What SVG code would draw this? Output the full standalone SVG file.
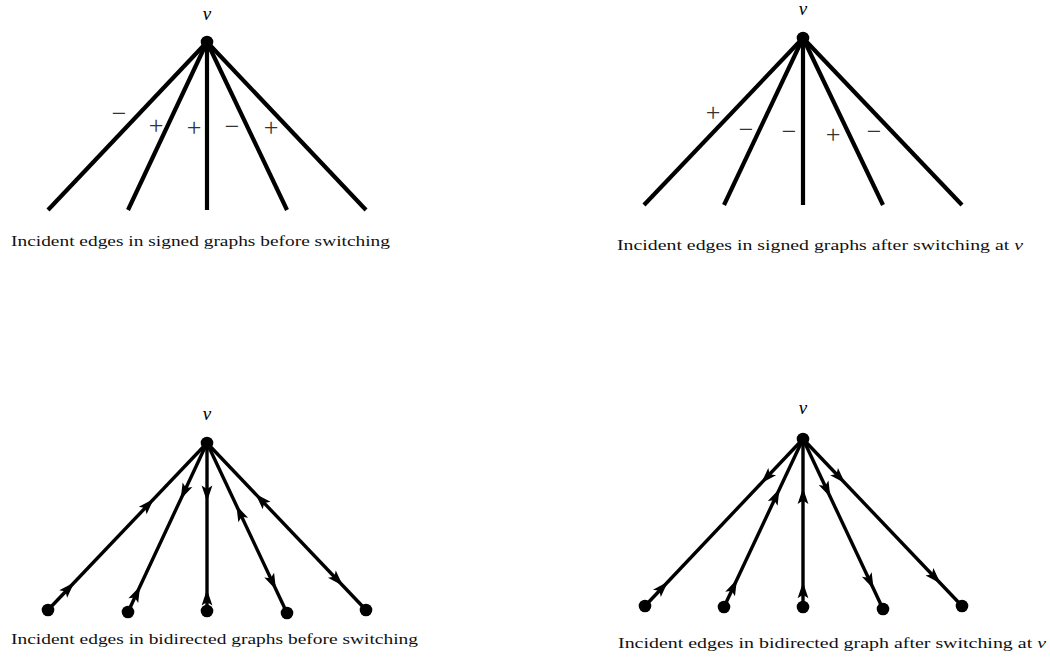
<svg xmlns="http://www.w3.org/2000/svg" xmlns:xlink="http://www.w3.org/1999/xlink" width="1050" height="658" viewBox="0 0 1050 658">
<style>
.bg{fill:#ffffff}
.e4{stroke:#000;stroke-width:4.2;fill:none}
.e3{stroke:#000;stroke-width:3.4;fill:none}
.dot{fill:#000}
.lbl{font-family:"Liberation Serif",serif;font-style:italic;font-size:19px;fill:#000;text-anchor:middle}
.sgn{font-family:"Liberation Serif",serif;font-size:26px;fill:#333;text-anchor:middle}
.cap{font-family:"Liberation Serif",serif;font-size:15px;fill:#111}
.it{font-style:italic}
</style>
<defs>
<path id="ah" d="M8,0 L-8,-5.4 L-4.5,0 L-8,5.4 Z" fill="#000"/>
</defs>
<rect class="bg" x="0" y="0" width="1050" height="658"/>

<g id="connectors">
  <g id="tl-edges">
    <line class="e4" x1="207" y1="42" x2="48" y2="210"/>
    <line class="e4" x1="207" y1="42" x2="128" y2="210"/>
    <line class="e4" x1="207" y1="42" x2="207" y2="210"/>
    <line class="e4" x1="207" y1="42" x2="287" y2="210"/>
    <line class="e4" x1="207" y1="42" x2="366" y2="210"/>
  </g>
  <g id="tr-edges">
    <line class="e4" x1="803" y1="38" x2="644" y2="205"/>
    <line class="e4" x1="803" y1="38" x2="724" y2="205"/>
    <line class="e4" x1="803" y1="38" x2="803" y2="205"/>
    <line class="e4" x1="803" y1="38" x2="883" y2="205"/>
    <line class="e4" x1="803" y1="38" x2="962" y2="205"/>
  </g>
  <g id="bl-edges">
    <line class="e3" x1="207" y1="443" x2="48" y2="610"/>
    <line class="e3" x1="207" y1="443" x2="128" y2="612"/>
    <line class="e3" x1="207" y1="443" x2="207" y2="611"/>
    <line class="e3" x1="207" y1="443" x2="287" y2="613"/>
    <line class="e3" x1="207" y1="443" x2="366" y2="610"/>
    <use xlink:href="#ah" transform="translate(148.2,504.8) rotate(-46.4)"/>
    <use xlink:href="#ah" transform="translate(68.7,588.3) rotate(-46.4)"/>
    <use xlink:href="#ah" transform="translate(184.1,492) rotate(115.1)"/>
    <use xlink:href="#ah" transform="translate(136.7,593.4) rotate(-64.9)"/>
    <use xlink:href="#ah" transform="translate(207,493.4) rotate(90)"/>
    <use xlink:href="#ah" transform="translate(207,597.6) rotate(-90)"/>
    <use xlink:href="#ah" transform="translate(239.8,512.7) rotate(-115.2)"/>
    <use xlink:href="#ah" transform="translate(272.6,582.4) rotate(64.8)"/>
    <use xlink:href="#ah" transform="translate(261.1,499.8) rotate(-133.6)"/>
    <use xlink:href="#ah" transform="translate(337.4,579.9) rotate(46.4)"/>
  </g>
  <g id="br-edges">
    <line class="e3" x1="803" y1="439" x2="645" y2="606"/>
    <line class="e3" x1="803" y1="439" x2="724" y2="607"/>
    <line class="e3" x1="803" y1="439" x2="803" y2="607"/>
    <line class="e3" x1="803" y1="439" x2="883" y2="609"/>
    <line class="e3" x1="803" y1="439" x2="962" y2="606"/>
    <use xlink:href="#ah" transform="translate(766.7,477.4) rotate(133.4)"/>
    <use xlink:href="#ah" transform="translate(662.4,587.6) rotate(-46.6)"/>
    <use xlink:href="#ah" transform="translate(776.1,496.1) rotate(-64.8)"/>
    <use xlink:href="#ah" transform="translate(733.5,586.8) rotate(-64.8)"/>
    <use xlink:href="#ah" transform="translate(803,496.1) rotate(-90)"/>
    <use xlink:href="#ah" transform="translate(803,590.2) rotate(-90)"/>
    <use xlink:href="#ah" transform="translate(827,490) rotate(64.8)"/>
    <use xlink:href="#ah" transform="translate(870.2,581.8) rotate(64.8)"/>
    <use xlink:href="#ah" transform="translate(839.6,477.4) rotate(46.4)"/>
    <use xlink:href="#ah" transform="translate(935,577.6) rotate(46.4)"/>
  </g>
</g>

<g id="tl-v"><circle class="dot" cx="207" cy="42" r="6.3"/><text class="lbl" x="207" y="20">v</text></g>
<g id="tr-v"><circle class="dot" cx="803" cy="38" r="6.3"/><text class="lbl" x="803" y="15">v</text></g>
<g id="bl-v"><circle class="dot" cx="207" cy="443" r="6.3"/><text class="lbl" x="207" y="420">v</text></g>
<g id="br-v"><circle class="dot" cx="803" cy="439" r="6.3"/><text class="lbl" x="803" y="414">v</text></g>

<g id="bl-leaves">
  <circle class="dot" cx="48" cy="610" r="6.3"/>
  <circle class="dot" cx="128" cy="612" r="6.3"/>
  <circle class="dot" cx="207" cy="611" r="6.3"/>
  <circle class="dot" cx="287" cy="613" r="6.3"/>
  <circle class="dot" cx="366" cy="610" r="6.3"/>
</g>
<g id="br-leaves">
  <circle class="dot" cx="645" cy="606" r="6.3"/>
  <circle class="dot" cx="724" cy="607" r="6.3"/>
  <circle class="dot" cx="803" cy="607" r="6.3"/>
  <circle class="dot" cx="883" cy="609" r="6.3"/>
  <circle class="dot" cx="962" cy="606" r="6.3"/>
</g>

<g id="tl-signs">
  <text class="sgn" x="119" y="122">−</text>
  <text class="sgn" x="156" y="134">+</text>
  <text class="sgn" x="194" y="136">+</text>
  <text class="sgn" x="232" y="135">−</text>
  <text class="sgn" x="271" y="136">+</text>
</g>
<g id="tr-signs">
  <text class="sgn" x="713" y="121">+</text>
  <text class="sgn" x="746" y="138">−</text>
  <text class="sgn" x="789" y="140">−</text>
  <text class="sgn" x="833" y="143">+</text>
  <text class="sgn" x="874" y="140">−</text>
</g>

<g id="captions">
  <text class="cap" x="11" y="246" textLength="379" lengthAdjust="spacingAndGlyphs">Incident edges in signed graphs before switching</text>
  <text class="cap" x="617" y="250" textLength="406" lengthAdjust="spacingAndGlyphs">Incident edges in signed graphs after switching at <tspan class="it">v</tspan></text>
  <text class="cap" x="11" y="644" textLength="407" lengthAdjust="spacingAndGlyphs">Incident edges in bidirected graphs before switching</text>
  <text class="cap" x="618" y="648" textLength="428" lengthAdjust="spacingAndGlyphs">Incident edges in bidirected graph after switching at <tspan class="it">v</tspan></text>
</g>
</svg>
